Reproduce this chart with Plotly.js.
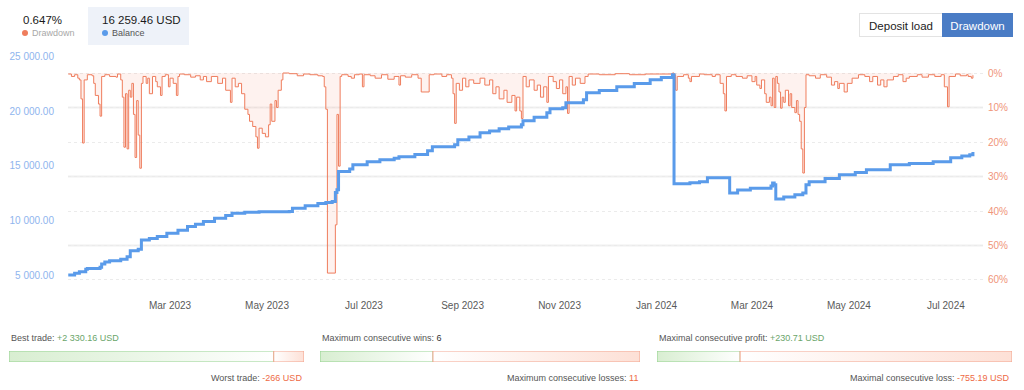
<!DOCTYPE html>
<html><head><meta charset="utf-8">
<script src="https://cdn.plot.ly/plotly-3.0.1.min.js"></script>
<style>
html,body{margin:0;padding:0;background:#fff;width:1024px;height:390px;overflow:hidden;font-family:"Liberation Sans",Arial,sans-serif;}
#chart{position:absolute;left:0;top:0;width:1024px;height:390px;}
.abs{position:absolute;white-space:nowrap;line-height:1;}
.dot{display:inline-block;width:6px;height:6px;border-radius:50%;margin-right:4px;vertical-align:middle;position:relative;top:-1px;}
.btn{position:absolute;top:13px;height:24px;line-height:24px;text-align:center;font-size:11.5px;box-sizing:border-box;}
</style></head><body>
<div id="chart"></div>
<div class="abs" id="ddVal" style="left:23px;top:15px;font-size:11.5px;color:#1a1a1a;"></div>
<div class="abs" style="left:22px;top:29px;font-size:9px;color:#a8a8a8;"><span class="dot" style="background:#ef7d5d"></span>Drawdown</div>
<div class="abs" style="left:88px;top:7px;width:101px;height:38px;background:#eef2f9;"></div>
<div class="abs" id="balVal" style="left:102px;top:15px;font-size:11.5px;color:#1a1a1a;"></div>
<div class="abs" style="left:102px;top:29px;font-size:9px;color:#555;"><span class="dot" style="background:#5a9bea"></span>Balance</div>
<div class="btn" style="left:859px;width:84px;border:1px solid #e3e3e3;color:#222;background:#fff;">Deposit load</div>
<div class="btn" style="left:942px;width:71px;background:#4a7cc5;color:#fff;border:1px solid #4a7cc5;">Drawdown</div>
<script>
// ---------- data ----------
const balDates = ["2022-12-27","2022-12-31","2023-01-03","2023-01-07","2023-01-08","2023-01-16","2023-01-17","2023-01-19","2023-01-22","2023-01-29",
"2023-02-02","2023-02-04","2023-02-09","2023-02-11","2023-02-16","2023-02-21","2023-02-27","2023-03-06","2023-03-12","2023-03-17",
"2023-03-22","2023-03-29","2023-04-05","2023-04-09","2023-04-17","2023-04-26","2023-05-15","2023-05-17","2023-05-25","2023-06-02",
"2023-06-07","2023-06-11","2023-06-13","2023-06-14","2023-06-15","2023-06-22","2023-06-24","2023-07-03","2023-07-11","2023-07-20",
"2023-07-23","2023-08-02","2023-08-10","2023-08-13","2023-08-27","2023-08-29","2023-09-05","2023-09-12","2023-09-18","2023-09-24",
"2023-09-30","2023-10-08","2023-10-09","2023-10-16","2023-10-24","2023-10-26","2023-11-03","2023-11-05","2023-11-16","2023-11-18",
"2023-11-26","2023-12-07","2023-12-18","2023-12-28","2024-01-04","2024-01-11","2024-01-12","2024-01-22","2024-01-28","2024-02-02",
"2024-02-16","2024-02-21","2024-02-29","2024-03-13","2024-03-14","2024-03-15","2024-03-16","2024-03-21","2024-03-28","2024-04-02",
"2024-04-04","2024-04-06","2024-04-16","2024-04-25","2024-05-05","2024-05-12","2024-05-27","2024-06-08","2024-06-23","2024-07-04",
"2024-07-11","2024-07-16","2024-07-18"];
const balValues = [5000,5150,5306,5520,5600,5700,6009,6200,6315,6450,
6682,7232,7355,8211,8350,8517,8823,9100,9434,9650,
9893,10200,10450,10657,10750,10790,10810,11116,11350,11550,
11636,11728,12554,12800,14480,14700,15092,15367,15550,15700,
15826,16050,16376,16743,16927,17385,17650,18028,18200,18394,
18550,18761,19128,19450,19862,20229,20321,20780,21055,21697,
21900,22248,22550,22890,23100,23349,13349,13450,13532,13899,
12523,12798,12950,13165,13440,13257,11972,12156,12350,12523,
13257,13532,13850,14174,14400,14633,15092,15220,15367,15734,
15900,16009,16259.46];

const ddDates = ["2022-12-27","2022-12-29","2022-12-31","2023-01-02","2023-01-03","2023-01-04","2023-01-05","2023-01-06","2023-01-08","2023-01-11",
"2023-01-12","2023-01-13","2023-01-15","2023-01-16","2023-01-17","2023-01-19","2023-01-22","2023-01-26","2023-01-27","2023-01-29",
"2023-01-30","2023-01-31","2023-02-01","2023-02-02","2023-02-03","2023-02-04","2023-02-05","2023-02-06","2023-02-07","2023-02-08",
"2023-02-09","2023-02-10","2023-02-11","2023-02-12","2023-02-14","2023-02-15","2023-02-16","2023-02-18","2023-02-20","2023-02-21",
"2023-02-23","2023-02-24","2023-02-26","2023-02-28","2023-03-01","2023-03-03","2023-03-05","2023-03-06","2023-03-07","2023-03-10",
"2023-03-14","2023-03-17","2023-03-20","2023-03-22","2023-03-24","2023-03-27","2023-03-31","2023-04-03","2023-04-05","2023-04-08",
"2023-04-09","2023-04-11","2023-04-13","2023-04-15","2023-04-17","2023-04-19","2023-04-20","2023-04-22","2023-04-24","2023-04-25",
"2023-04-26","2023-04-28","2023-04-30","2023-05-02","2023-05-03","2023-05-04","2023-05-06","2023-05-07","2023-05-08","2023-05-10",
"2023-05-11","2023-05-15","2023-05-20","2023-05-24","2023-05-28","2023-06-02","2023-06-05","2023-06-06","2023-06-07","2023-06-08",
"2023-06-13","2023-06-14","2023-06-15","2023-06-16","2023-06-17","2023-06-21","2023-06-23","2023-06-25","2023-06-28","2023-06-30",
"2023-07-01","2023-07-05","2023-07-08","2023-07-12","2023-07-16","2023-07-20","2023-07-23","2023-07-24","2023-07-27","2023-07-31",
"2023-08-04","2023-08-06","2023-08-11","2023-08-14","2023-08-19","2023-08-22","2023-08-25","2023-08-26","2023-08-27","2023-08-28",
"2023-08-30","2023-09-01","2023-09-03","2023-09-05","2023-09-08","2023-09-12","2023-09-15","2023-09-18","2023-09-20","2023-09-22",
"2023-09-24","2023-09-27","2023-09-29","2023-10-02","2023-10-04","2023-10-05","2023-10-07","2023-10-08","2023-10-09","2023-10-11",
"2023-10-13","2023-10-16","2023-10-18","2023-10-20","2023-10-22","2023-10-24","2023-10-25","2023-10-28","2023-10-30","2023-11-01",
"2023-11-03","2023-11-05","2023-11-06","2023-11-07","2023-11-09","2023-11-11","2023-11-14","2023-11-17","2023-11-19","2023-11-26",
"2023-12-06","2023-12-15","2023-12-25","2024-01-03","2024-01-11","2024-01-12","2024-01-13","2024-01-14","2024-01-18","2024-01-21",
"2024-01-22","2024-01-23","2024-01-28","2024-01-31","2024-02-05","2024-02-07","2024-02-10","2024-02-12","2024-02-13","2024-02-14",
"2024-02-17","2024-02-20","2024-02-24","2024-02-27","2024-03-01","2024-03-03","2024-03-04","2024-03-06","2024-03-07","2024-03-09",
"2024-03-10","2024-03-12","2024-03-13","2024-03-14","2024-03-15","2024-03-16","2024-03-17","2024-03-18","2024-03-19","2024-03-20",
"2024-03-21","2024-03-22","2024-03-24","2024-03-25","2024-03-26","2024-03-28","2024-03-29","2024-03-30","2024-03-31","2024-04-01",
"2024-04-02","2024-04-03","2024-04-04","2024-04-06","2024-04-10","2024-04-13","2024-04-17","2024-04-20","2024-04-22","2024-04-24",
"2024-04-25","2024-04-28","2024-04-30","2024-05-03","2024-05-07","2024-05-11","2024-05-14","2024-05-16","2024-05-19","2024-05-21",
"2024-05-23","2024-05-25","2024-05-29","2024-06-01","2024-06-04","2024-06-06","2024-06-08","2024-06-13","2024-06-16","2024-06-20",
"2024-06-24","2024-06-28","2024-06-30","2024-07-02","2024-07-03","2024-07-07","2024-07-10","2024-07-14","2024-07-15","2024-07-17",
"2024-07-18"];
const ddValues = [0.3,1.0,0.5,1.5,2.0,7.5,20.3,2.0,0.5,0.8,
3.0,6.5,9.0,12.5,1.0,0.5,1.0,1.2,0.3,2.0,
7.0,21.5,6.0,22.0,5.0,7.0,3.0,12.0,24.5,8.0,
18.0,27.6,3.0,1.0,3.0,1.5,6.0,1.0,2.5,4.0,
6.5,1.0,0.5,4.0,1.5,3.0,6.5,1.0,0.3,0.5,
1.2,0.8,2.0,1.0,2.5,1.0,3.0,1.5,5.0,8.5,
1.5,4.0,3.0,6.0,10.5,12.0,14.0,15.5,18.5,21.8,
16.0,17.5,18.5,15.0,9.0,14.0,8.0,10.0,5.0,2.0,
0.0,0.2,0.8,0.3,0.5,0.8,1.0,4.0,10.5,58.0,
44.0,12.0,27.0,1.0,0.5,1.0,1.5,0.5,0.3,4.0,
0.5,0.8,1.5,0.5,1.8,1.0,3.5,0.8,1.2,0.5,
1.5,5.5,0.5,0.3,1.0,0.5,1.5,6.0,14.6,3.0,
5.0,1.5,4.0,2.0,3.0,1.5,3.5,2.0,6.0,4.0,
7.5,5.0,8.5,6.5,11.0,7.0,11.0,13.2,1.0,4.0,
2.0,5.0,3.5,7.0,4.0,8.5,1.0,2.5,4.5,2.0,
6.0,4.0,11.7,1.0,3.5,1.5,3.0,1.0,0.3,0.5,
0.2,0.5,0.3,0.3,0.0,0.5,5.0,1.0,0.5,1.5,
2.5,1.0,0.3,0.5,1.0,0.5,3.0,6.0,11.0,1.0,
0.5,1.0,1.5,0.8,2.5,1.0,3.5,4.5,2.0,6.0,
8.5,7.0,9.5,1.5,10.0,1.0,3.0,5.5,10.2,7.0,
8.5,5.0,9.5,6.0,10.0,11.5,8.0,12.0,14.0,22.0,
29.0,10.0,0.5,0.8,1.5,0.5,1.2,3.5,2.5,4.5,
3.0,5.5,3.0,1.5,0.5,1.0,2.5,1.0,3.5,2.0,
4.0,2.0,1.0,0.5,2.5,1.5,1.0,0.5,1.2,0.5,
1.0,0.5,4.0,9.8,1.0,0.3,0.8,0.5,1.0,1.5,
0.647];

const monthTicks = ["2023-03-01","2023-05-01","2023-07-01","2023-09-01","2023-11-01","2024-01-01","2024-03-01","2024-05-01","2024-07-01"];
const monthLabels = ["Mar 2023","May 2023","Jul 2023","Sep 2023","Nov 2023","Jan 2024","Mar 2024","May 2024","Jul 2024"];
const balanceTicks = [5000, 10000, 15000, 20000, 25000];
const drawdownTicks = [0, 10, 20, 30, 40, 50, 60];
const currentDrawdown = 0.647;
const currentBalance = 16259.46;

const bestTrade = 2330.16, worstTrade = 266;
const maxConsWins = 6, maxConsLosses = 11;
const maxConsProfit = 230.71, maxConsLoss = 755.19;

// ---------- helpers ----------
function fmt(v, dec) {
  const s = Math.abs(v).toFixed(dec);
  const parts = s.split('.');
  parts[0] = parts[0].replace(/\B(?=(\d{3})+(?!\d))/g, ' ');
  return (v < 0 ? '-' : '') + parts.join('.');
}
document.getElementById('ddVal').textContent = currentDrawdown.toFixed(3) + '%';
document.getElementById('balVal').textContent = fmt(currentBalance, 2) + ' USD';

const GREEN_LINE = '#94d28f', RED_LINE = '#f3a58e';
function pairBar(xa, ya, good, bad) {
  const total = good + bad;
  return [
    {type:'scatter', mode:'lines', xaxis:xa, yaxis:ya, x:[0, good, good, 0, 0], y:[0,0,1,1,0],
     fill:'toself', fillcolor:'#eaf6e6', fillgradient:{type:'horizontal', colorscale:[[0,'#d8eed1'],[1,'#ffffff']]},
     line:{color:GREEN_LINE, width:1}, hoverinfo:'skip', showlegend:false},
    {type:'scatter', mode:'lines', xaxis:xa, yaxis:ya, x:[good, total, total, good, good], y:[0,0,1,1,0],
     fill:'toself', fillcolor:'#fdeee9', fillgradient:{type:'horizontal', colorscale:[[0,'#ffffff'],[1,'#fde0d6']]},
     line:{color:RED_LINE, width:1}, hoverinfo:'skip', showlegend:false}
  ];
}

const traces = [
  {type:'scatter', mode:'lines', x:ddDates, y:ddValues, xaxis:'x', yaxis:'y',
   line:{color:'#ef7d5d', width:1, shape:'hv'}, fill:'tozeroy', fillcolor:'rgba(246,150,125,0.12)',
   hoverinfo:'skip', showlegend:false, name:'Drawdown'},
  {type:'scatter', mode:'lines', x:balDates, y:balValues, xaxis:'x', yaxis:'y2',
   line:{color:'#5a9bea', width:3, shape:'hv'}, hoverinfo:'skip', showlegend:false, name:'Balance'},
  ...pairBar('x3','y3', bestTrade, worstTrade),
  ...pairBar('x4','y4', maxConsWins, maxConsLosses),
  ...pairBar('x5','y5', maxConsProfit, maxConsLoss)
];

const axisFont = {family:'"Liberation Sans", Arial, sans-serif', size:10};
const hiddenAx = {visible:false, fixedrange:true};
const txtFont = {family:'"Liberation Sans", Arial, sans-serif', size:9, color:'#555'};
const GREEN_TXT = '#6aa56a', RED_TXT = '#ee6a45';

const layout = {
  width:1024, height:390,
  margin:{l:9, r:12, t:56, b:28},
  paper_bgcolor:'#fff', plot_bgcolor:'rgba(0,0,0,0)',
  showlegend:false, hovermode:false,
  xaxis:{type:'date', domain:[0.05882, 0.97109], range:['2022-12-26 20:00','2024-07-24 08:00'],
    tickmode:'array', tickvals:monthTicks, ticktext:monthLabels, showgrid:false, zeroline:false, showline:false,
    ticks:'', ticklabelstandoff:8, tickfont:Object.assign({color:'#5a5a5a'}, axisFont), fixedrange:true},
  yaxis:{domain:[0.2353, 1], side:'right', range:[62.9, -4.93], tickmode:'array', tickvals:drawdownTicks,
    ticktext:drawdownTicks.map(v => v + '%'),
    showgrid:true, gridcolor:'#ebebeb', griddash:'dot', gridwidth:1, zeroline:false, showline:false, ticks:'',
    ticklabelstandoff:4, tickfont:Object.assign({color:'#f0957a'}, axisFont), fixedrange:true},
  yaxis2:{overlaying:'y', side:'left', range:[3626, 25064], tickmode:'array', tickvals:balanceTicks,
    ticktext:balanceTicks.map(v => fmt(v, 2)), showgrid:false, zeroline:false, showline:false, ticks:'',
    ticklabelstandoff:13, tickfont:Object.assign({color:'#8fb5ee'}, axisFont), fixedrange:true},
  xaxis3:Object.assign({domain:[0, 0.2941], range:[0, bestTrade + worstTrade], anchor:'y3'}, hiddenAx),
  yaxis3:Object.assign({domain:[0, 0.036], range:[0, 1], anchor:'x3'}, hiddenAx),
  xaxis4:Object.assign({domain:[0.3101, 0.6291], range:[0, maxConsWins + maxConsLosses], anchor:'y4'}, hiddenAx),
  yaxis4:Object.assign({domain:[0, 0.036], range:[0, 1], anchor:'x4'}, hiddenAx),
  xaxis5:Object.assign({domain:[0.6461, 1], range:[0, maxConsProfit + maxConsLoss], anchor:'y5'}, hiddenAx),
  yaxis5:Object.assign({domain:[0, 0.036], range:[0, 1], anchor:'x5'}, hiddenAx),
  shapes:[10, 30, 50].map(v => ({type:'line', layer:'below', xref:'x domain', x0:0, x1:1, yref:'y', y0:v, y1:v,
    line:{color:'#efefef', width:2}})),
  annotations:[
    {xref:'x3 domain', x:0, xanchor:'left', yref:'paper', y:0.0784, yanchor:'middle', showarrow:false, font:txtFont,
     text:'Best trade: <span style="color:' + GREEN_TXT + '">+' + fmt(bestTrade, 2) + ' USD</span>'},
    {xref:'x3 domain', x:1, xanchor:'right', yref:'paper', y:-0.0523, yanchor:'middle', showarrow:false, font:txtFont,
     text:'Worst trade: <span style="color:' + RED_TXT + '">-' + worstTrade + ' USD</span>'},
    {xref:'x4 domain', x:0, xanchor:'left', yref:'paper', y:0.0784, yanchor:'middle', showarrow:false, font:txtFont,
     text:'Maximum consecutive wins: <span style="color:#333">' + maxConsWins + '</span>'},
    {xref:'x4 domain', x:1, xanchor:'right', yref:'paper', y:-0.0523, yanchor:'middle', showarrow:false, font:txtFont,
     text:'Maximum consecutive losses: <span style="color:' + RED_TXT + '">' + maxConsLosses + '</span>'},
    {xref:'x5 domain', x:0, xanchor:'left', yref:'paper', y:0.0784, yanchor:'middle', showarrow:false, font:txtFont,
     text:'Maximal consecutive profit: <span style="color:' + GREEN_TXT + '">+' + fmt(maxConsProfit, 2) + ' USD</span>'},
    {xref:'x5 domain', x:1, xanchor:'right', yref:'paper', y:-0.0523, yanchor:'middle', showarrow:false, font:txtFont,
     text:'Maximal consecutive loss: <span style="color:' + RED_TXT + '">-' + fmt(maxConsLoss, 2) + ' USD</span>'}
  ]
};

Plotly.newPlot('chart', traces, layout, {displayModeBar:false, staticPlot:true});
</script>
</body></html>
